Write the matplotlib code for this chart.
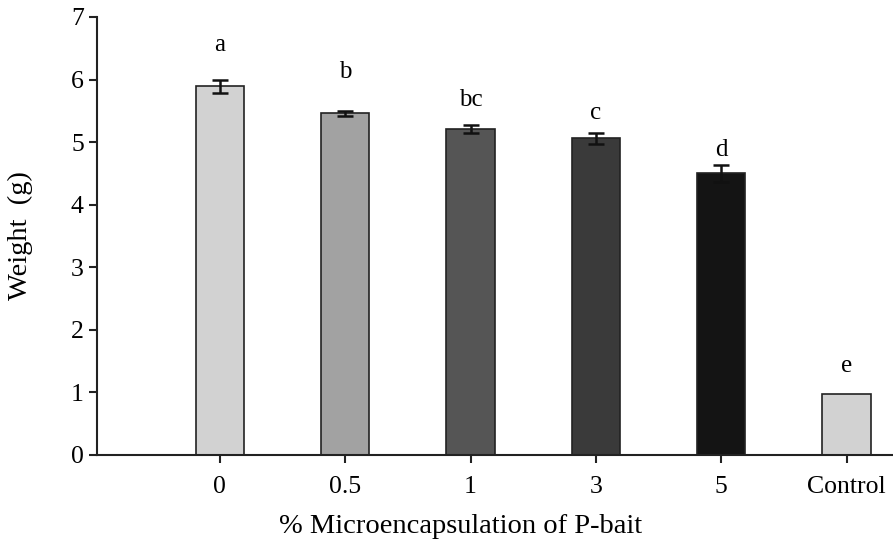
import matplotlib
matplotlib.use('Agg')
import matplotlib.pyplot as plt

categories = ['0', '0.5', '1', '3', '5', 'Control']
weights = [5.89, 5.46, 5.21, 5.06, 4.50, 0.97]
errors = [0.11, 0.04, 0.07, 0.09, 0.14, 0.0]
letters = ['a', 'b', 'bc', 'c', 'd', 'e']
letter_y = [6.55, 6.12, 5.67, 5.46, 4.87, 1.42]
colors = ['#d2d2d2', '#a2a2a2', '#555555', '#3a3a3a', '#141414', '#d2d2d2']

plt.rcParams['font.family'] = ['Liberation Serif', 'DejaVu Serif']

fig = plt.figure(figsize=(8.93, 5.41), dpi=100)
ax = fig.add_axes([0.1086, 0.159, 0.8914, 0.8096])

x = list(range(1, len(categories) + 1))
ax.bar(x, weights, width=0.385, color=colors, edgecolor='#222222', linewidth=1.2,
       yerr=[e if e > 0 else float('nan') for e in errors],
       error_kw=dict(ecolor='#111111', elinewidth=1.8, capsize=6, capthick=1.8))

for xi, lab, ly in zip(x, letters, letter_y):
    ax.text(xi, ly, lab, ha='center', va='center', fontsize=18)

ax.set_xlim(0.02, 6.37)
ax.set_ylim(0, 7)
ax.set_xticks(x)
ax.set_xticklabels(categories)
ax.set_yticks(range(0, 8))
ax.spines['top'].set_visible(False)
ax.spines['right'].set_visible(False)
for s in ['left', 'bottom']:
    ax.spines[s].set_linewidth(1.5)
    ax.spines[s].set_color('#222222')
ax.tick_params(axis='both', labelsize=18.5, width=1.5, length=6, color='#222222')
ax.tick_params(axis='x', pad=9)
ax.set_ylabel('Weight  (g)', fontsize=20.5)
ax.set_xlabel('% Microencapsulation of P-bait', fontsize=20.5)
ax.yaxis.set_label_coords(-0.08, 0.5)
ax.xaxis.set_label_coords(0.457, -0.135)

fig.savefig('out.png', dpi=100)
